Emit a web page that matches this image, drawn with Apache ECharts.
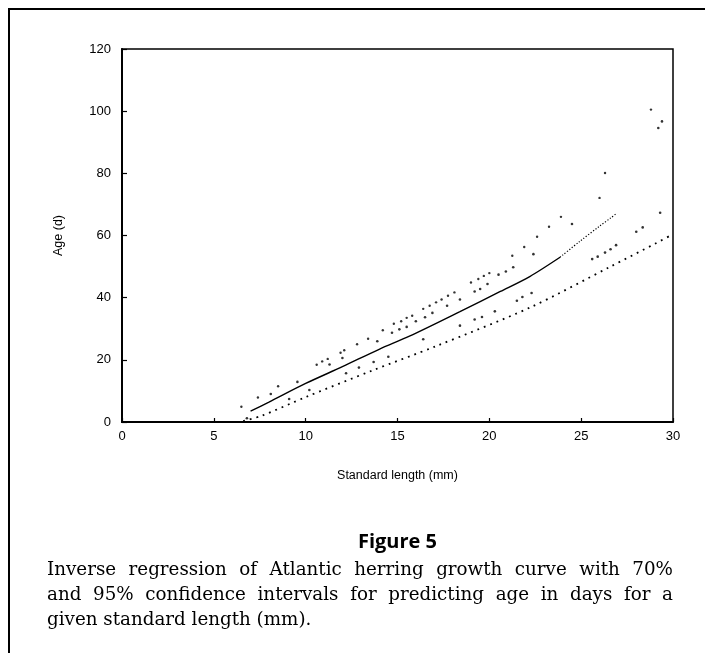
<!DOCTYPE html>
<html>
<head>
<meta charset="utf-8">
<script src="https://cdn.jsdelivr.net/npm/echarts@6/dist/echarts.min.js"></script>
<style>
  html, body { margin: 0; padding: 0; background: #fff; }
  #wrap { position: relative; width: 705px; height: 653px; overflow: hidden; background: #fff; }
  #frame { position: absolute; left: 8px; top: 8px; width: 720px; height: 700px; border-left: 2px solid #000; border-top: 2px solid #000; }
  #chart { position: absolute; left: 0; top: 0; width: 705px; height: 653px; }
  #figtitle { position: absolute; left: 0; width: 795px; top: 527px; text-align: center; font-family: "Open Sans", "Liberation Sans", sans-serif; font-weight: bold; font-size: 20px; color: #000; }
  #caption { position: absolute; left: 47px; width: 626px; top: 556px; font-family: "DejaVu Serif", serif; font-size: 18.3px; line-height: 25px; color: #000; }
  #caption .j { text-align: justify; text-align-last: justify; white-space: nowrap; }
  #caption .l { text-align: left; white-space: nowrap; }
</style>
</head>
<body>
<div id="wrap">
  <div id="frame"></div>
  <div id="chart"></div>
  <div id="figtitle">Figure 5</div>
  <div id="caption">
    <div class="j">Inverse regression of Atlantic herring growth curve with 70%</div>
    <div class="j">and 95% confidence intervals for predicting age in days for a</div>
    <div class="l">given standard length (mm).</div>
  </div>
</div>
<script>
// Axis ticks
const xTicks = [0, 5, 10, 15, 20, 25, 30];
const yTicks = [0, 20, 40, 60, 80, 100, 120];

// Regression curve (solid part and its finely dotted continuation)
const centerSolid = [[7.0,3.5],[8.0,6.4],[10.0,12.4],[12.0,17.8],[14.0,23.4],[15.65,27.6],[18.4,35.5],[20.6,42.0],[22.2,46.8],[23.85,53.0]];
const centerDotted = [[23.85,53.0],[24.9,58.0],[26.0,63.0],[26.6,65.6],[26.9,67.0]];

// Lower 95% interval (dense dotted line)
const lower95 = [[6.6,0.3],[7.6,2.0],[10.0,8.0],[13.6,16.5],[17.1,24.4],[22.2,36.8],[26.6,50.0],[29.1,57.6],[29.8,59.8]];

// Lower 70% interval (scattered dots)
const lower70 = [[6.8,1.2],[9.1,7.4],[10.2,10.3],[12.2,15.7],[12.9,17.5],[13.7,19.3],[14.5,21.0],[16.4,26.6],[18.4,31.0],[19.2,33.0],[19.6,33.8],[20.3,35.6],[21.5,39.0],[21.8,40.2],[22.3,41.5],[25.6,52.4],[25.9,53.2],[26.3,54.5],[26.6,55.6],[26.9,56.9],[28.0,61.2],[28.35,62.6],[29.3,67.3]];

// Upper 70% interval (scattered dots)
const upper70 = [[8.1,9.0],[9.55,12.9],[11.3,18.5],[12.0,20.6],[13.9,26.0],[14.7,28.7],[15.1,29.8],[15.5,30.6],[16.0,32.4],[16.5,33.7],[16.9,35.1],[17.7,37.4],[18.4,39.4],[19.2,42.0],[19.5,42.8],[19.9,44.4],[20.5,47.4],[20.9,48.4],[21.3,49.8],[22.4,54.0],[24.5,63.7],[29.2,94.6],[29.4,96.7]];

// Upper 95% interval (scattered dots)
const upper95 = [[6.5,4.9],[7.4,7.9],[8.5,11.5],[10.6,18.4],[10.9,19.5],[11.2,20.3],[11.9,22.3],[12.1,23.1],[12.8,25.0],[13.4,26.8],[14.2,29.5],[14.8,31.6],[15.2,32.4],[15.5,33.5],[15.8,34.2],[16.4,36.4],[16.75,37.4],[17.1,38.5],[17.4,39.4],[17.75,40.6],[18.1,41.7],[19.0,44.9],[19.4,46.0],[19.7,47.0],[20.0,47.9],[21.25,53.5],[21.9,56.3],[22.6,59.6],[23.25,62.8],[23.9,66.0],[26.0,72.1],[26.3,80.1],[28.8,100.5]];

const chart = echarts.init(document.getElementById('chart'), null, { renderer: 'canvas' });
const axisFont = { color: '#000', fontFamily: 'Liberation Sans, Arial, sans-serif', fontSize: 13 };
const dot = (name, data, size) => ({
  name, type: 'scatter', data, symbol: 'circle', symbolSize: size,
  itemStyle: { color: '#000' }, silent: true, z: 3
});
chart.setOption({
  animation: false,
  grid: { left: 122, right: 32, top: 49, bottom: 231, show: true, borderColor: '#000', borderWidth: 1.5, backgroundColor: 'transparent' },
  xAxis: {
    type: 'value', min: xTicks[0], max: xTicks[xTicks.length - 1], interval: 5,
    name: 'Standard length (mm)', nameLocation: 'middle', nameGap: 47,
    nameTextStyle: { color: '#000', fontFamily: 'Liberation Sans, Arial, sans-serif', fontSize: 12.5 },
    axisLine: { lineStyle: { color: '#000', width: 2 } },
    axisTick: { inside: true, length: 4, lineStyle: { color: '#000', width: 1.2 } },
    axisLabel: Object.assign({ margin: 8 }, axisFont),
    splitLine: { show: false }
  },
  yAxis: {
    type: 'value', min: yTicks[0], max: yTicks[yTicks.length - 1], interval: 20,
    name: 'Age (d)', nameLocation: 'middle', nameGap: 57, nameRotate: 90,
    nameTextStyle: { color: '#000', fontFamily: 'Liberation Sans, Arial, sans-serif', fontSize: 12.5 },
    axisLine: { show: true, lineStyle: { color: '#000', width: 2 } },
    axisTick: { show: true, inside: true, length: 5, lineStyle: { color: '#000', width: 1.2 } },
    axisLabel: Object.assign({ margin: 11 }, axisFont),
    splitLine: { show: false }
  },
  series: [
    { name: 'Regression', type: 'line', data: centerSolid, showSymbol: false, smooth: 0.3, silent: true,
      lineStyle: { color: '#000', width: 1.4 }, z: 4 },
    { name: 'Regression (cont.)', type: 'line', data: centerDotted, showSymbol: false, smooth: 0.3, silent: true,
      lineStyle: { color: '#000', width: 1.2, type: [1.2, 1.8] }, z: 4 },
    { name: 'Lower 95%', type: 'line', data: lower95, showSymbol: false, smooth: 0.3, silent: true,
      lineStyle: { color: '#000', width: 1.8, type: [1.8, 5] }, z: 3 },
    dot('Lower 70%', lower70, 2.6),
    dot('Upper 70%', upper70, 2.6),
    dot('Upper 95%', upper95, 2.4)
  ]
});
</script>
</body>
</html>
